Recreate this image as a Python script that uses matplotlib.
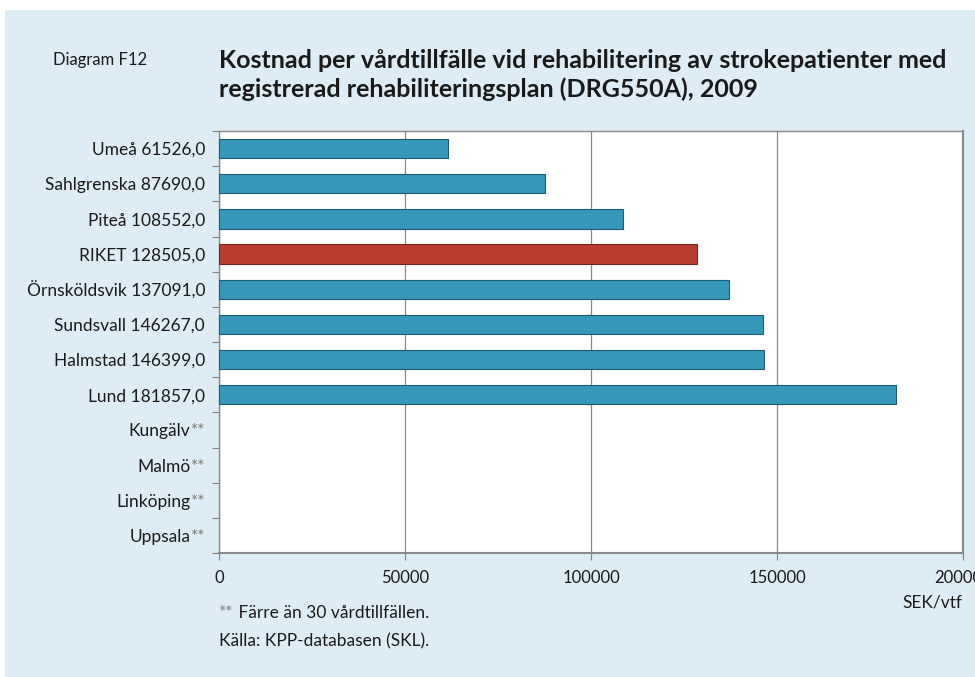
import matplotlib
matplotlib.use("Agg")
import matplotlib.pyplot as plt
from matplotlib.text import Annotation
import numpy as np

plt.rcParams['font.family'] = ['Lato', 'DejaVu Sans']

units = ["Umeå", "Sahlgrenska", "Piteå", "RIKET", "Örnsköldsvik", "Sundsvall",
         "Halmstad", "Lund", "Kungälv", "Malmö", "Linköping", "Uppsala"]
costs = [61526.0, 87690.0, 108552.0, 128505.0, 137091.0, 146267.0,
         146399.0, 181857.0, None, None, None, None]
highlight = "RIKET"
xticks = [0, 50000, 100000, 150000, 200000]

bg = "#deedf5"
blue = "#3797b9"
blue_edge = "#1d5a73"
red = "#b83d33"
red_edge = "#7a2520"
ink = "#1a1a1a"
star_grey = "#7d7d7d"
label_size = 12.5
label_pad = 10

fig = plt.figure(figsize=(9.75, 6.77), dpi=100)
fig.patch.set_facecolor("white")
# light-blue panel behind the chart
fig.patches.append(plt.Rectangle((5 / 975, 0), 1, 1 - 10 / 677,
                                 transform=fig.transFigure, facecolor=bg,
                                 edgecolor="none", zorder=-10))

ax = fig.add_axes([219 / 975, 1 - 553 / 677, (963 - 219) / 975, (553 - 131) / 677])
ax.set_facecolor("white")

n = len(units)
ypos = np.arange(n)
labels = []
for name, v in zip(units, costs):
    if v is None:
        labels.append("")
    else:
        labels.append(f"{name} {v:.1f}".replace(".", ","))

for y, name, v in zip(ypos, units, costs):
    if v is None:
        continue
    is_hl = name == highlight
    ax.barh(y, v, height=0.55, color=red if is_hl else blue,
            edgecolor=red_edge if is_hl else blue_edge, linewidth=0.8, zorder=3)

ax.set_ylim(n - 0.5, -0.5)
ax.set_xlim(0, 200000)
ax.set_yticks(ypos)
ax.set_yticklabels(labels, fontsize=label_size, color=ink)
ax.tick_params(axis="y", which="major", length=0, pad=label_pad)
ax.set_yticks(np.arange(n + 1) - 0.5, minor=True)
ax.tick_params(axis="y", which="minor", length=5, color="#808080", width=0.8)

# units without a value: name in black followed by grey asterisks
for y, name, v in zip(ypos, units, costs):
    if v is not None:
        continue
    stars = ax.annotate("**", xy=(0, y), xycoords=ax.get_yaxis_transform(),
                        xytext=(-label_pad, 0), textcoords="offset points",
                        ha="right", va="center_baseline", fontsize=label_size,
                        color=star_grey, annotation_clip=False)
    ax.annotate(name, xy=(0, 0.5), xycoords=stars, ha="right", va="center",
                fontsize=label_size, color=ink, annotation_clip=False)

ax.set_xticks(xticks)
ax.set_xticklabels([str(t) for t in xticks], fontsize=12, color=ink)
ax.tick_params(axis="x", length=5, color="#808080", width=0.8, pad=7)
ax.grid(axis="x", color="#8a8a8a", linewidth=0.9, zorder=0)

for side in ["top", "right", "bottom", "left"]:
    ax.spines[side].set_color("#8a8a8a")
    ax.spines[side].set_linewidth(1.0)
ax.spines["right"].set_linewidth(1.5)
ax.spines["bottom"].set_linewidth(1.5)

fig.text(53 / 975, 1 - 60 / 677, "Diagram F12", fontsize=12, va="center",
         ha="left", color=ink)
fig.text(219 / 975, 1 - 60 / 677,
         "Kostnad per vårdtillfälle vid rehabilitering av strokepatienter med",
         fontsize=18, fontweight="bold", va="center", ha="left", color=ink)
fig.text(219 / 975, 1 - 89 / 677,
         "registrerad rehabiliteringsplan (DRG550A), 2009",
         fontsize=18, fontweight="bold", va="center", ha="left", color=ink)

fig.text(962 / 975, 1 - 603 / 677, "SEK/vtf", fontsize=12.5, ha="right",
         va="center", color=ink)
note_stars = fig.text(219 / 975, 1 - 613 / 677, "**", fontsize=12.5,
                      ha="left", va="center", color=star_grey)
fig.add_artist(Annotation(" Färre än 30 vårdtillfällen.", xy=(1, 0.5),
                          xycoords=note_stars, ha="left", va="center",
                          fontsize=12.5, color=ink))
fig.text(219 / 975, 1 - 641 / 677, "Källa: KPP-databasen (SKL).", fontsize=12.5,
         ha="left", va="center", color=ink)

fig.savefig("out.png", dpi=100, facecolor=fig.get_facecolor())
